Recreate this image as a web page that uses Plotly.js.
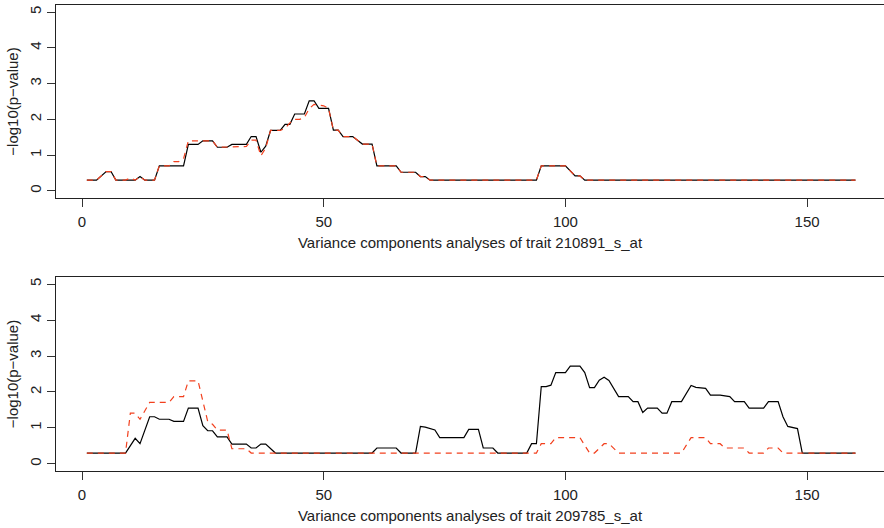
<!DOCTYPE html>
<html>
<head>
<meta charset="utf-8">
<script src="https://cdn.plot.ly/plotly-3.0.1.min.js"></script>
<style>html,body{margin:0;padding:0;background:#fff;}#chart{width:884px;height:528px;}</style>
</head>
<body>
<div id="chart"></div>
<script>
// Top panel: trait 210891_s_at (breakpoints of the piecewise lines)
const topBlackX = [1,3,5,6,7,11,12,13,15,16,21,22,24,25,27,28,30,31,34,35,36,37,38,39,41,42,43,44,46,47,48,49,51,52,53,54,56,57,58,60,61,65,66,69,70,71,72,94,95,100,101,102,103,104,160];
const topBlackY = [.3,.3,.54,.54,.3,.3,.4,.3,.3,.7,.7,1.3,1.3,1.4,1.4,1.22,1.22,1.3,1.3,1.52,1.52,1.08,1.25,1.69,1.69,1.86,1.86,2.15,2.15,2.52,2.52,2.31,2.31,1.7,1.7,1.52,1.52,1.42,1.31,1.31,.7,.7,.52,.52,.4,.4,.3,.3,.7,.7,.55,.42,.42,.3,.3];
const topRedX = [1,3,5,6,7,9,10,11,12,13,15,16,18,19,20,21,22,27,28,30,31,34,35,36,37,38,39,41,42,43,44,45,46,47,48,50,51,52,53,54,56,57,58,60,61,65,66,69,70,71,72,94,95,100,101,102,103,104,160];
const topRedY = [.3,.3,.54,.54,.3,.3,.36,.3,.4,.3,.3,.7,.7,.82,.82,.9,1.4,1.4,1.22,1.22,1.24,1.24,1.42,1.42,.98,1.2,1.69,1.69,1.75,1.9,2.0,2.0,2.05,2.3,2.42,2.38,2.31,1.7,1.7,1.52,1.52,1.42,1.31,1.31,.7,.7,.52,.52,.4,.4,.3,.3,.7,.7,.55,.42,.42,.3,.3];

// Bottom panel: trait 209785_s_at
const botBlackX = [1,9,11,12,14,15,16,18,19,21,22,24,25,26,27,28,30,31,34,35,36,37,38,40,60,61,65,66,69,70,71,73,74,79,80,82,83,85,86,92,93,94,95,96,97,98,100,101,103,104,105,106,107,108,109,110,111,113,114,115,116,117,119,120,121,122,124,126,127,129,130,132,134,135,137,138,141,142,144,145,146,148,149,160];
const botBlackY = [.3,.3,.71,.56,1.31,1.31,1.24,1.24,1.18,1.18,1.55,1.55,1.06,.92,.92,.75,.75,.55,.55,.44,.44,.55,.55,.3,.3,.44,.44,.3,.3,1.04,1.02,.94,.73,.73,.96,.96,.44,.44,.3,.3,.56,.56,2.15,2.15,2.19,2.54,2.54,2.72,2.72,2.54,2.12,2.12,2.33,2.41,2.32,2.1,1.87,1.87,1.73,1.73,1.43,1.55,1.55,1.41,1.41,1.73,1.73,2.18,2.13,2.1,1.91,1.91,1.87,1.73,1.73,1.55,1.55,1.73,1.73,1.31,1.04,.98,.3,.3];
const botRedX = [1,9,10,11,12,14,18,19,21,22,24,26,27,28,30,31,34,35,94,95,97,98,103,105,106,108,109,111,124,126,129,130,132,133,137,138,141,142,144,145,160];
const botRedY = [.3,.3,1.41,1.41,1.24,1.71,1.71,1.87,1.87,2.31,2.31,1.18,1.1,.94,.94,.42,.42,.3,.3,.56,.56,.73,.73,.3,.3,.56,.56,.3,.3,.73,.73,.56,.56,.44,.44,.3,.3,.44,.44,.3,.3];

const xTicks = [0,50,100,150];
const yTicks = [0,1,2,3,4,5];
const topTitle = 'Variance components analyses of trait 210891_s_at';
const botTitle = 'Variance components analyses of trait 209785_s_at';
const yTitle = '\u2212log10(p\u2212value)';

const BLACK = '#000000';
const RED = '#f2401e';
const FS = 15;

const traces = [
  {x: topBlackX, y: topBlackY, xaxis:'x', yaxis:'y', mode:'lines', line:{color:BLACK, width:1.2}, hoverinfo:'skip'},
  {x: topRedX, y: topRedY, xaxis:'x', yaxis:'y', mode:'lines', line:{color:RED, width:1.2, dash:'6px,5px'}, hoverinfo:'skip'},
  {x: botBlackX, y: botBlackY, xaxis:'x2', yaxis:'y2', mode:'lines', line:{color:BLACK, width:1.2}, hoverinfo:'skip'},
  {x: botRedX, y: botRedY, xaxis:'x2', yaxis:'y2', mode:'lines', line:{color:RED, width:1.2, dash:'6px,5px'}, hoverinfo:'skip'}
];

function xAxis(anchor, title){
  return {anchor: anchor, domain:[56/884, 1], range:[-5.38, 165.9], tickvals: xTicks, ticktext: xTicks.map(String),
    ticks:'outside', ticklen:8, tickwidth:1, tickcolor:'#333', showline:true, mirror:true, linecolor:'#222', linewidth:1,
    showgrid:false, zeroline:false, tickfont:{size:FS, color:'#222'}, ticklabelstandoff:2,
    title:{text:title, font:{size:FS, color:'#222'}, standoff:8}, automargin:false};
}
function yAxis(anchor, dom){
  return {anchor: anchor, domain: dom, range:[-0.2, 5.2], tickvals: yTicks, ticktext: yTicks.map(String), tickangle:-90,
    ticks:'outside', ticklen:8, tickwidth:1, tickcolor:'#333', showline:true, mirror:true, linecolor:'#222', linewidth:1,
    showgrid:false, zeroline:false, tickfont:{size:FS, color:'#222'},
    title:{text:yTitle, font:{size:FS, color:'#222'}, standoff:4}, automargin:false};
}

const layout = {
  width:884, height:528, margin:{l:0, r:0, t:0, b:0},
  paper_bgcolor:'#ffffff', plot_bgcolor:'#ffffff', showlegend:false,
  font:{family:'"Liberation Sans", Arial, sans-serif', size:FS, color:'#222'},
  xaxis: xAxis('y', topTitle),
  yaxis: yAxis('x', [1-198/528, 1-5/528]),
  xaxis2: xAxis('y2', botTitle),
  yaxis2: yAxis('x2', [1-471/528, 1-277/528])
};

Plotly.newPlot('chart', traces, layout, {displayModeBar:false, staticPlot:true});
</script>
</body>
</html>
